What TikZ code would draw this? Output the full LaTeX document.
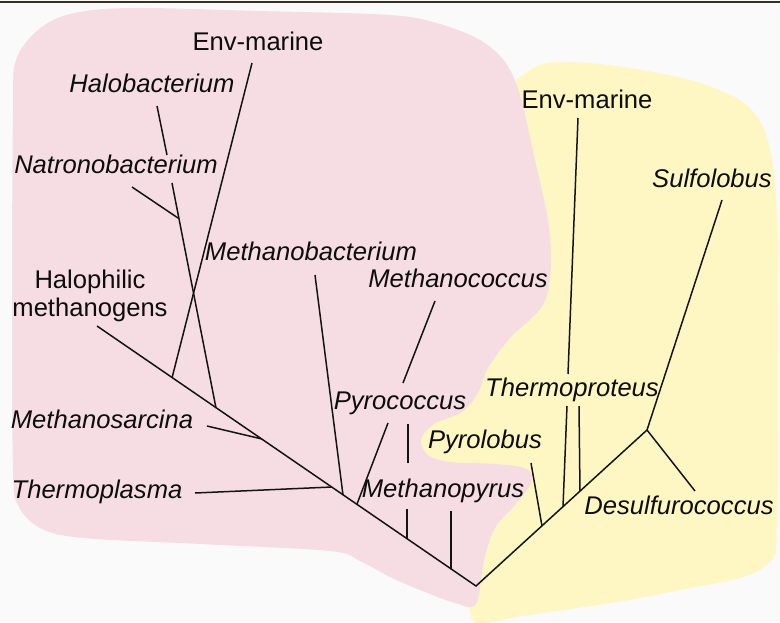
\documentclass[tikz,border=0pt]{standalone}
\usepackage{fontspec}
\setmainfont{Liberation Sans}
\usepackage{xcolor}
\usepackage{tikz}
\usetikzlibrary{calc}
\definecolor{pinkbg}{RGB}{246,221,228}
\definecolor{yellowbg}{RGB}{254,247,196}
\definecolor{pagebg}{RGB}{250,250,250}
\definecolor{rulecol}{RGB}{52,50,40}
\tikzset{
  pinkzone/.style={fill=pinkbg},
  yellowzone/.style={fill=yellowbg},
  branch/.style={draw=black!92, line width=1.5pt},
  grp/.style={anchor=base, inner sep=0pt, text=black!95,
    font=\fontsize{25.6}{27.5}\selectfont},
  tax/.style={grp, font=\itshape\fontsize{25.6}{27.5}\selectfont}
}

\begin{document}
\begin{tikzpicture}[x=1pt,y=-1pt]
  \useasboundingbox (0,0) rectangle (780,622);
  \fill[pagebg] (0,0) rectangle (780,622);
  \draw[rulecol, line width=2pt] (0,1.5) -- (780,1.5);

  % the two groups
  \fill[yellowzone] plot[smooth cycle, tension=0.55] coordinates {
    (477,623) (523,616) (623,601) (690,588) (740,578) (768,563)
    (777,530) (778,300) (778,233) (773,167) (763,127) (740,100)
    (690,80) (623,67) (573,62) (540,65) (515,82) (500,110)
    (500,300) (415,410) (405,450) (460,560) (468,600)};
  \fill[pinkzone] plot[smooth cycle, tension=0.55] coordinates {
    (13,110) (16,60) (38,30) (70,14) (130,8) (260,11) (390,15)
    (440,24) (480,40) (505,62) (520,95) (535,160) (548,220)
    (551,265) (543,305) (510,338) (488,368) (478,393) (462,412)
    (434,424) (421,440) (428,455) (450,462) (495,464) (527,469)
    (531,483) (515,505) (495,528) (484,560) (476,604) (455,603)
    (420,590) (390,577) (360,561) (330,551) (200,544) (83,538)
    (40,528) (18,505) (13,470) (12,300)};

  % labels
  \node[grp] (envL) at (258,50) {Env-marine};
  \node[tax] (halo) at (152,92) {Halobacterium};
  \node[tax] (natro) at (116,173) {Natronobacterium};
  \node[tax] (mbac) at (311,260) {Methanobacterium};
  \node[grp, anchor=center, align=center] (halm) at (90,296)
    {Halophilic\\methanogens};
  \node[tax] (mcoc) at (458,287) {Methanococcus};
  \node[tax] (pyrc) at (400,409) {Pyrococcus};
  \node[tax] (mpyr) at (443,497) {Methanopyrus};
  \node[tax] (msar) at (102,428) {Methanosarcina};
  \node[tax] (thpl) at (97,498) {Thermoplasma};
  \node[grp] (envR) at (587,108) {Env-marine};
  \node[tax] (sulf) at (712,187) {Sulfolobus};
  \node[tax] (thpr) at (572,396) {Thermoproteus};
  \node[tax] (pyrl) at (485,448) {Pyrolobus};
  \node[tax] (desu) at (679,514) {Desulfurococcus};

  % tree
  \coordinate (root) at (476,586);
  \coordinate (hm) at (97,326);
  \coordinate (jDes) at (647,430);
  \coordinate (jEnvL) at (172,378);
  \coordinate (jHal) at (216,408);
  \coordinate (jNat) at (178,218);
  \coordinate (jSar) at (262,439);
  \coordinate (jThp) at (332,487);
  \coordinate (jMba) at (343,495);
  \coordinate (jPyc) at (357,504);
  \coordinate (jMpy) at (407,539);
  \coordinate (jLast) at (451,569);
  \coordinate (jPyl) at (542,526);
  \coordinate (jEnvR) at (563,507);
  \coordinate (jTpr) at (580,491);

  \draw[branch] (hm) -- (root) -- (jDes);
  \draw[branch] (jEnvL) -- (252,63);
  \draw[branch] (jHal) -- (172,183);
  \draw[branch] (167,155) -- (157,106);
  \draw[branch] (jNat) -- (132,187);
  \draw[branch] (jSar) -- (207,426);
  \draw[branch] (jThp) -- (195,493);
  \draw[branch] (jMba) -- (315,275);
  \draw[branch] (jPyc) -- (388,423);
  \draw[branch] (403,383) -- (435,301);
  \draw[branch] (jMpy) -- (407,509);
  \draw[branch] (408,463) -- (408,424);
  \draw[branch] (jLast) -- (451,511);
  \draw[branch] (jDes) -- (722,200);
  \draw[branch] (jDes) -- (695,491);
  \draw[branch] (jPyl) -- (531,463);
  \draw[branch] (jEnvR) -- (567,406);
  \draw[branch] (568,374) -- (578,118);
  \draw[branch] (jTpr) -- (579,406);
\end{tikzpicture}
\end{document}
